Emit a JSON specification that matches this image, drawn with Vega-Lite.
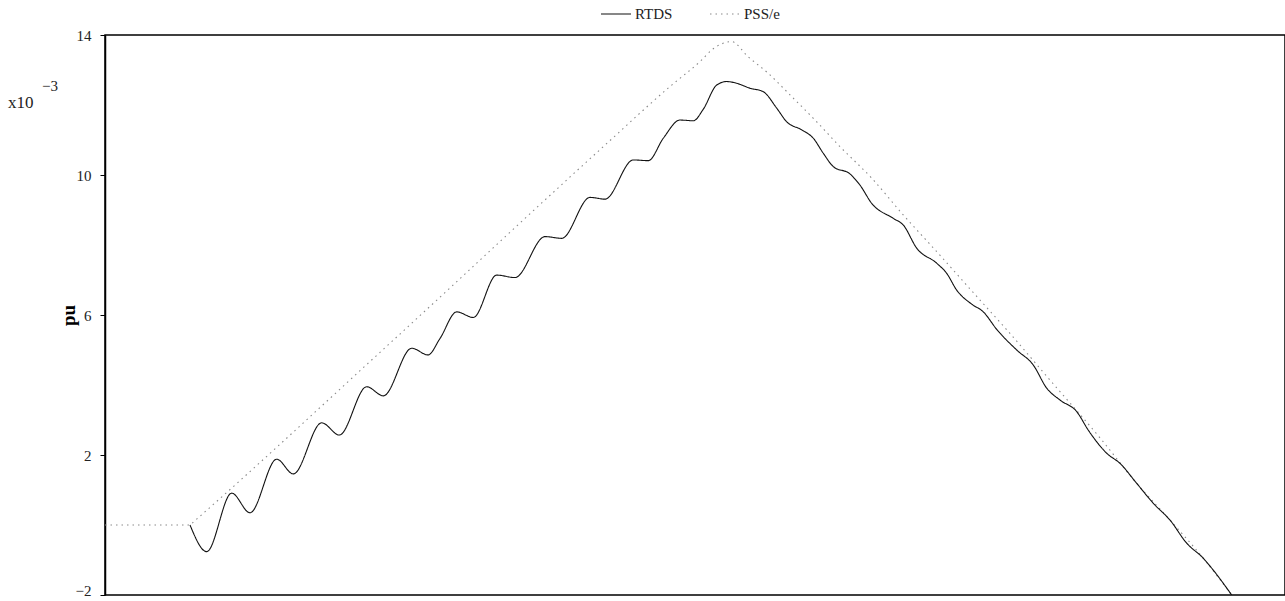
{
  "$schema": "https://vega.github.io/schema/vega-lite/v6.json",
  "width": 1180,
  "height": 560,
  "autosize": {"type": "none"},
  "padding": {"left": 105, "top": 35, "right": 0, "bottom": 6},
  "background": "white",
  "config": {
    "view": {"stroke": "black", "strokeWidth": 1.5},
    "font": "Liberation Serif"
  },
  "datasets": {
    "curves": [
      {"series": "PSS/e", "t": 0, "v": 0},
      {"series": "PSS/e", "t": 0.85, "v": 0},
      {"series": "PSS/e", "t": 0.87, "v": 0.05},
      {"series": "PSS/e", "t": 2.867, "v": 5.24},
      {"series": "PSS/e", "t": 4.983, "v": 10.81},
      {"series": "PSS/e", "t": 5.667, "v": 12.57},
      {"series": "PSS/e", "t": 5.95, "v": 13.24},
      {"series": "PSS/e", "t": 6.08, "v": 13.6},
      {"series": "PSS/e", "t": 6.267, "v": 13.81},
      {"series": "PSS/e", "t": 6.43, "v": 13.38},
      {"series": "PSS/e", "t": 6.63, "v": 12.91},
      {"series": "PSS/e", "t": 6.85, "v": 12.29},
      {"series": "PSS/e", "t": 7.117, "v": 11.52},
      {"series": "PSS/e", "t": 7.35, "v": 10.81},
      {"series": "PSS/e", "t": 7.667, "v": 9.91},
      {"series": "PSS/e", "t": 7.967, "v": 8.91},
      {"series": "PSS/e", "t": 8.333, "v": 7.76},
      {"series": "PSS/e", "t": 8.733, "v": 6.48},
      {"series": "PSS/e", "t": 9.02, "v": 5.57},
      {"series": "PSS/e", "t": 9.45, "v": 4.14},
      {"series": "PSS/e", "t": 9.95, "v": 2.49},
      {"series": "PSS/e", "t": 10.317, "v": 1.19},
      {"series": "PSS/e", "t": 10.65, "v": 0.14},
      {"series": "PSS/e", "t": 10.98, "v": -0.94},
      {"series": "PSS/e", "t": 11.267, "v": -2.0},
      {"series": "RTDS", "t": 0.85, "v": 0},
      {"series": "RTDS", "t": 1.017, "v": -0.76},
      {"series": "RTDS", "t": 1.267, "v": 0.91},
      {"series": "RTDS", "t": 1.45, "v": 0.35},
      {"series": "RTDS", "t": 1.717, "v": 1.88},
      {"series": "RTDS", "t": 1.883, "v": 1.46},
      {"series": "RTDS", "t": 2.167, "v": 2.92},
      {"series": "RTDS", "t": 2.343, "v": 2.57},
      {"series": "RTDS", "t": 2.617, "v": 3.95},
      {"series": "RTDS", "t": 2.783, "v": 3.69},
      {"series": "RTDS", "t": 3.067, "v": 5.05},
      {"series": "RTDS", "t": 3.23, "v": 4.86},
      {"series": "RTDS", "t": 3.35, "v": 5.33},
      {"series": "RTDS", "t": 3.517, "v": 6.09},
      {"series": "RTDS", "t": 3.683, "v": 5.93},
      {"series": "RTDS", "t": 3.917, "v": 7.14},
      {"series": "RTDS", "t": 4.1, "v": 7.07},
      {"series": "RTDS", "t": 4.4, "v": 8.24},
      {"series": "RTDS", "t": 4.567, "v": 8.19},
      {"series": "RTDS", "t": 4.85, "v": 9.36},
      {"series": "RTDS", "t": 5.0, "v": 9.31},
      {"series": "RTDS", "t": 5.283, "v": 10.43},
      {"series": "RTDS", "t": 5.433, "v": 10.41},
      {"series": "RTDS", "t": 5.583, "v": 11.05},
      {"series": "RTDS", "t": 5.75, "v": 11.57},
      {"series": "RTDS", "t": 5.883, "v": 11.55},
      {"series": "RTDS", "t": 5.983, "v": 11.88},
      {"series": "RTDS", "t": 6.117, "v": 12.57},
      {"series": "RTDS", "t": 6.217, "v": 12.67},
      {"series": "RTDS", "t": 6.317, "v": 12.62},
      {"series": "RTDS", "t": 6.45, "v": 12.48},
      {"series": "RTDS", "t": 6.583, "v": 12.38},
      {"series": "RTDS", "t": 6.717, "v": 11.91},
      {"series": "RTDS", "t": 6.817, "v": 11.52},
      {"series": "RTDS", "t": 6.967, "v": 11.29},
      {"series": "RTDS", "t": 7.083, "v": 11.05},
      {"series": "RTDS", "t": 7.183, "v": 10.62},
      {"series": "RTDS", "t": 7.283, "v": 10.24},
      {"series": "RTDS", "t": 7.45, "v": 10.03},
      {"series": "RTDS", "t": 7.55, "v": 9.71},
      {"series": "RTDS", "t": 7.667, "v": 9.19},
      {"series": "RTDS", "t": 7.883, "v": 8.76},
      {"series": "RTDS", "t": 7.983, "v": 8.57},
      {"series": "RTDS", "t": 8.117, "v": 7.91},
      {"series": "RTDS", "t": 8.317, "v": 7.48},
      {"series": "RTDS", "t": 8.417, "v": 7.19},
      {"series": "RTDS", "t": 8.517, "v": 6.71},
      {"series": "RTDS", "t": 8.667, "v": 6.31},
      {"series": "RTDS", "t": 8.783, "v": 6.09},
      {"series": "RTDS", "t": 8.917, "v": 5.59},
      {"series": "RTDS", "t": 9.117, "v": 5.0},
      {"series": "RTDS", "t": 9.283, "v": 4.57},
      {"series": "RTDS", "t": 9.417, "v": 3.91},
      {"series": "RTDS", "t": 9.55, "v": 3.57},
      {"series": "RTDS", "t": 9.717, "v": 3.24},
      {"series": "RTDS", "t": 9.833, "v": 2.71},
      {"series": "RTDS", "t": 10.017, "v": 2.05},
      {"series": "RTDS", "t": 10.15, "v": 1.76},
      {"series": "RTDS", "t": 10.317, "v": 1.19},
      {"series": "RTDS", "t": 10.483, "v": 0.62},
      {"series": "RTDS", "t": 10.65, "v": 0.14},
      {"series": "RTDS", "t": 10.817, "v": -0.52},
      {"series": "RTDS", "t": 10.983, "v": -0.95},
      {"series": "RTDS", "t": 11.083, "v": -1.29},
      {"series": "RTDS", "t": 11.267, "v": -2.0}
    ]
  },
  "layer": [
    {
      "data": {"name": "curves"},
      "mark": {"type": "line", "clip": true, "interpolate": "monotone", "strokeWidth": 1.1},
      "encoding": {
        "x": {"field": "t", "type": "quantitative", "scale": {"domain": [0, 11.8], "nice": false, "zero": false}, "axis": null},
        "y": {
          "field": "v", "type": "quantitative",
          "scale": {"domain": [-2, 14], "nice": false, "zero": false},
          "axis": {
            "title": "pu",
            "values": [-2, 2, 6, 10, 14],
            "grid": false,
            "domainColor": "black",
            "domainWidth": 1.5,
            "tickColor": "black",
            "tickSize": 5,
            "labelPadding": 9,
            "labelFont": "Liberation Serif",
            "labelFontSize": 15,
            "labelColor": "#222",
            "labelBaseline": {"condition": {"test": "datum.value == -2", "value": "alphabetic"}, "value": "middle"},
            "labelExpr": "datum.value < 0 ? '\u2212' + abs(datum.value) : datum.label",
            "titleFont": "Liberation Serif",
            "titleFontSize": 19,
            "titleFontWeight": "bold",
            "titleColor": "black",
            "titleX": -37,
            "titleY": 280,
            "titleAngle": 270,
            "titleAlign": "center",
            "titleBaseline": "middle"
          }
        },
        "detail": {"field": "series"},
        "order": {"field": "t", "type": "quantitative"},
        "color": {
          "field": "series", "type": "nominal",
          "scale": {"domain": ["RTDS", "PSS/e"], "range": ["#111111", "#8a8a8a"]},
          "legend": {
            "title": null,
            "orient": "none",
            "legendX": 495,
            "legendY": -37,
            "direction": "horizontal",
            "symbolType": "stroke",
            "symbolSize": 900,
            "symbolStrokeWidth": 1.2,
            "labelFont": "Liberation Serif",
            "labelFontSize": 15,
            "labelColor": "#222",
            "labelOffset": 3,
            "columnPadding": 34
          }
        },
        "strokeDash": {
          "field": "series", "type": "nominal",
          "scale": {"domain": ["RTDS", "PSS/e"], "range": [[1, 0], [1.5, 4]]},
          "legend": {
            "title": null,
            "orient": "none",
            "legendX": 495,
            "legendY": -37,
            "direction": "horizontal",
            "symbolType": "stroke",
            "symbolSize": 900,
            "symbolStrokeWidth": 1.2,
            "labelFont": "Liberation Serif",
            "labelFontSize": 15,
            "labelColor": "#222",
            "labelOffset": 3,
            "columnPadding": 34
          }
        }
      }
    },
    {
      "data": {"values": [{}]},
      "mark": {"type": "text", "align": "left", "baseline": "alphabetic", "font": "Liberation Serif", "fontSize": 17, "color": "#222"},
      "encoding": {
        "x": {"datum": -0.97, "type": "quantitative"},
        "y": {"datum": 11.91, "type": "quantitative"},
        "text": {"value": "x10"}
      }
    },
    {
      "data": {"values": [{}]},
      "mark": {"type": "text", "align": "left", "baseline": "alphabetic", "font": "Liberation Serif", "fontSize": 15, "color": "#222"},
      "encoding": {
        "x": {"datum": -0.63, "type": "quantitative"},
        "y": {"datum": 12.4, "type": "quantitative"},
        "text": {"value": "\u22123"}
      }
    }
  ]
}
